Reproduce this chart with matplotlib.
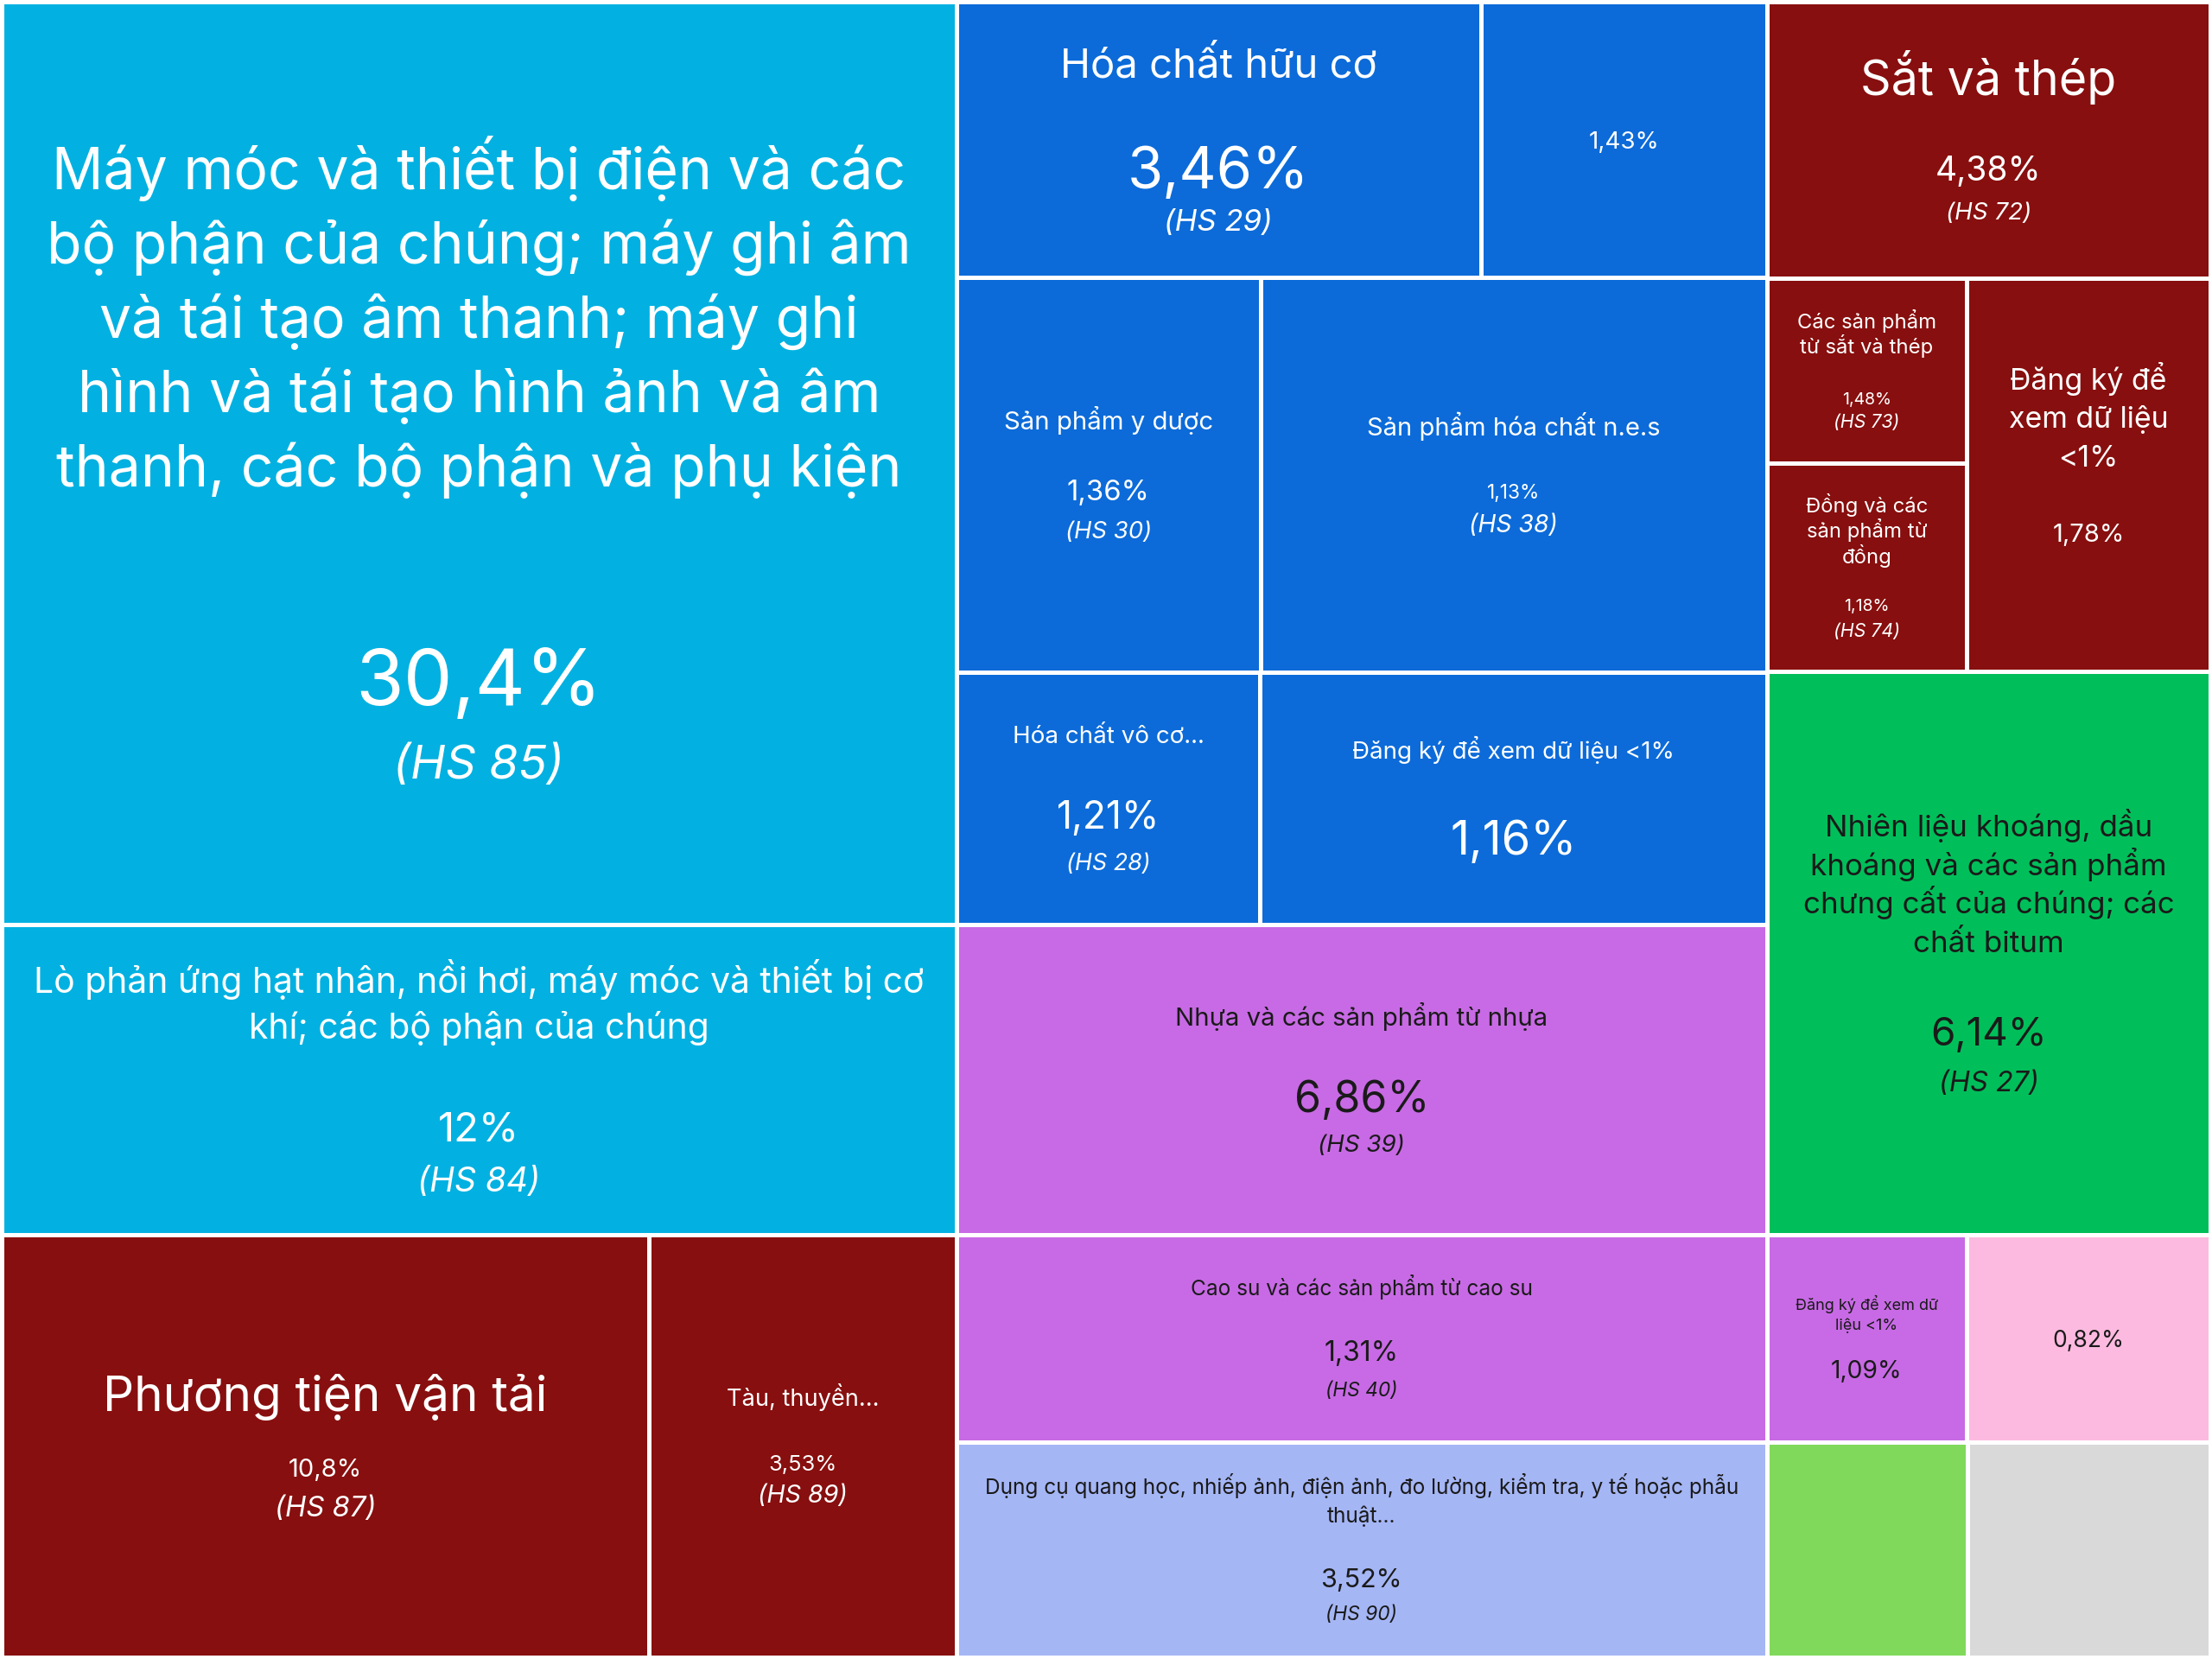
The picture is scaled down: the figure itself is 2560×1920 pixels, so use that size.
"""
Treemap: thi phan nhom hang HS (tile labels in Vietnamese).
Layout is a slice-and-dice tree driven by tile areas read off the picture.
"""
import matplotlib
matplotlib.use("Agg")
import matplotlib.pyplot as plt
from matplotlib.patches import Rectangle

W, H = 2560, 1920
DPI  = 200

plt.rcParams["font.family"] = ["Inter", "Noto Sans", "DejaVu Sans"]

# ── data ──────────────────────────────────────────────────────────────────────
names = [
    "Máy móc và thiết bị điện và các\nbộ phận của chúng; máy ghi âm\nvà tái tạo âm thanh; máy ghi\nhình và tái tạo hình ảnh và âm\nthanh, các bộ phận và phụ kiện",
    "Lò phản ứng hạt nhân, nồi hơi, máy móc và thiết bị cơ\nkhí; các bộ phận của chúng",
    "Phương tiện vận tải",
    "Tàu, thuyền...",
    "Hóa chất hữu cơ",
    "",
    "Sản phẩm y dược",
    "Sản phẩm hóa chất n.e.s",
    "Hóa chất vô cơ...",
    "Đăng ký để xem dữ liệu <1%",
    "Nhựa và các sản phẩm từ nhựa",
    "Cao su và các sản phẩm từ cao su",
    "Dụng cụ quang học, nhiếp ảnh, điện ảnh, đo lường, kiểm tra, y tế hoặc phẫu\nthuật...",
    "Sắt và thép",
    "Các sản phẩm\ntừ sắt và thép",
    "Đồng và các\nsản phẩm từ\nđồng",
    "Đăng ký để\nxem dữ liệu\n<1%",
    "Nhiên liệu khoáng, dầu\nkhoáng và các sản phẩm\nchưng cất của chúng; các\nchất bitum",
    "Đăng ký để xem dữ\nliệu <1%",
    "",
    "",
    "",
]
shares = [30.4, 12, 10.8, 3.53, 3.46, 1.43, 1.36, 1.13, 1.21, 1.16, 6.86,
          1.31, 3.52, 4.38, 1.48, 1.18, 1.78, 6.14, 1.09, 0.82, None, None]
hs_codes = [85, 84, 87, 89, 29, None, 30, 38, 28, None, 39,
            40, 90, 72, 73, 74, None, 27, None, None, None, None]
groups = ["machine", "machine", "metal", "metal", "chem", "chem", "chem", "chem",
          "chem", "chem", "plastic", "plastic", "optic", "metal", "metal", "metal",
          "metal", "fuel", "plastic", "pink", "lime", "other"]
# tile area as % of the canvas
tile_area = [24.08, 8.10, 7.48, 3.55, 3.96, 2.16, 3.28, 5.46, 2.10, 3.50, 6.88,
             4.59, 4.78, 3.35, 1.01, 1.14, 2.62, 6.83, 1.13, 1.38, 1.18, 1.43]

# split tree: "h" = side by side, "v" = stacked
tree = ("h", [
    ("v", [0, 1, ("h", [2, 3])]),
    ("v", [("h", [4, 5]), ("h", [6, 7]), ("h", [8, 9]), 10, 11, 12]),
    ("v", [13, ("h", [("v", [14, 15]), 16]), 17, ("h", [18, 19]), ("h", [20, 21])]),
])

# ── styles ────────────────────────────────────────────────────────────────────
fill = {"machine": "#02B1E1", "chem": "#0C6BD9", "metal": "#880F0F",
        "plastic": "#C86AE5", "fuel": "#00BF5A", "optic": "#A5B6F5",
        "pink": "#FDBAE0", "lime": "#80D95A", "other": "#D9D9D9"}
ink = {"machine": "white", "chem": "white", "metal": "white",
       "plastic": "#1a1a1a", "fuel": "#1a1a1a", "optic": "#1a1a1a",
       "pink": "#1a1a1a", "lime": "#1a1a1a", "other": "#1a1a1a"}

# (name size, line step, name->value, value size, value->HS, HS size, blank tail), points
label_fmt = [
    (23.8, 31, 88, 32.5, 35, 19.7, 0),
    (14.7, 19, 42, 17, 22, 14, 0),
    (20.4, 0, 31, 10.5, 16, 11.8, 0),
    (9.8, 0, 27, 9.2, 13, 10.3, 0),
    (17, 0, 43.5, 24, 22, 12.5, 0),
    (0, 0, 0, 10, 0, 0, 0),
    (10.6, 0, 29, 11.8, 16.5, 9.9, 0),
    (10.5, 0, 27, 8.2, 13.5, 10.2, 0),
    (10, 0, 33.5, 16, 19.5, 9.7, 0),
    (10, 0, 36.5, 19.5, 0, 0, 0),
    (10.6, 0, 33.5, 18, 19.5, 10, 0),
    (8.8, 0, 26.5, 11.5, 16, 8.2, 0),
    (8.8, 12, 26, 11, 14.7, 8.2, 0),
    (20, 0, 37.6, 14, 17.6, 10, 0),
    (8.6, 10.6, 21.8, 7, 9.4, 7.7, 0),
    (8.6, 10.6, 20.6, 7, 10.6, 7.7, 0),
    (12.2, 16, 32, 10.5, 0, 0, 16.5),
    (12.6, 16, 37.6, 16.5, 21, 11.7, 0),
    (6.5, 8.2, 19, 10.2, 0, 0, 0),
    (0, 0, 0, 9.5, 0, 0, 0),
    (0, 0, 0, 0, 0, 0, 0),
    (0, 0, 0, 0, 0, 0, 0),
]


def weight(node):
    if isinstance(node, int):
        return tile_area[node]
    return sum(weight(k) for k in node[1])


def place(node, x, y, w, h, out):
    if isinstance(node, int):
        out[node] = (x, y, w, h)
        return
    d, kids = node
    tot = weight(node)
    for k in kids:
        f = weight(k) / tot
        if d == "h":
            place(k, x, y, w * f, h, out)
            x += w * f
        else:
            place(k, x, y, w, h * f, out)
            y += h * f


rects = {}
place(tree, 2, 2, W - 4, H - 4, rects)

fig = plt.figure(figsize=(W / DPI, H / DPI), dpi=DPI, facecolor="white")
ax = fig.add_axes([0, 0, 1, 1])
ax.set_xlim(0, W)
ax.set_ylim(H, 0)
ax.axis("off")

for i, (x, y, w, h) in rects.items():
    g = groups[i]
    ax.add_patch(Rectangle((x, y), w, h, facecolor=fill[g], edgecolor="white",
                           linewidth=1.8))

    ns, step, d1, vs, d2, hs, tail = label_fmt[i]
    items = []   # (text, size, style, offset from first line)
    pos = 0.0
    lines = names[i].split("\n") if names[i] else []
    for j, line in enumerate(lines):
        if j:
            pos -= step
        items.append((line, ns, "normal", pos))
    if shares[i] is not None:
        if items:
            pos -= d1
        val = f"{shares[i]:g}".replace(".", ",") + "%"
        items.append((val, vs, "normal", pos))
        if hs_codes[i] is not None:
            pos -= d2
            items.append((f"(HS {hs_codes[i]})", hs, "italic", pos))
    if not items:
        continue
    top = items[0][3] + 0.36 * items[0][1]
    bot = items[-1][3] - 0.36 * items[-1][1] - tail
    shift = -(top + bot) / 2
    cx, cy = x + w / 2, y + h / 2
    for txt, size, style, off in items:
        ax.annotate(txt, xy=(cx, cy), xytext=(0, off + shift - 0.36 * size),
                    textcoords="offset points", ha="center", va="baseline",
                    fontsize=size, fontstyle=style, color=ink[g])

fig.savefig("out.png", dpi=DPI, facecolor="white")
